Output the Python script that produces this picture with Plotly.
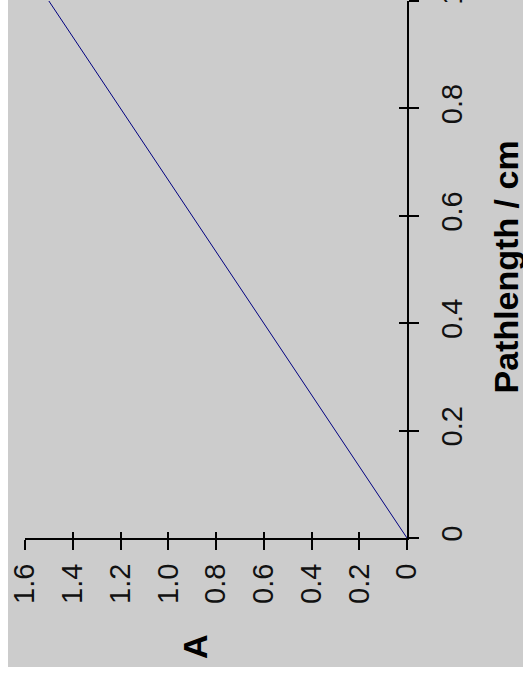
import plotly.graph_objects as go

# Data
pathlength = [0, 0.2, 0.4, 0.6, 0.8, 1.0]
absorbance = [0, 0.3, 0.6, 0.9, 1.2, 1.5]

a_ticks = [0, 0.2, 0.4, 0.6, 0.8, 1.0, 1.2, 1.4, 1.6]
a_ticktext = ["0", "0.2", "0.4", "0.6", "0.8", "1.0", "1.2", "1.4", "1.6"]
p_ticks = [0, 0.2, 0.4, 0.6, 0.8, 1.0]
p_ticktext = ["0", "0.2", "0.4", "0.6", "0.8", "1"]

GRAY = "#cccccc"
FONT = "Arial, Liberation Sans, sans-serif"

fig = go.Figure()
fig.add_trace(go.Scatter(x=absorbance, y=pathlength, mode="lines",
                         line=dict(color="#000080", width=1),
                         showlegend=False, hoverinfo="skip"))
# invisible trace on overlay axes so they render
fig.add_trace(go.Scatter(x=[0], y=[0], xaxis="x2", yaxis="y2", mode="markers",
                         marker=dict(opacity=0), showlegend=False, hoverinfo="skip"))

axis_common = dict(showgrid=False, zeroline=False, linecolor="black", linewidth=2,
                   tickcolor="black", tickwidth=2, automargin=False,
                   tickfont=dict(family=FONT, size=29, color="#111111"))

fig.update_layout(
    width=523, height=681,
    margin=dict(l=25, r=116, t=1, b=143, autoexpand=False),
    paper_bgcolor="white", plot_bgcolor=GRAY,
    xaxis=dict(range=[1.6, 0], tickmode="array", tickvals=a_ticks, ticktext=a_ticktext,
               ticks="outside", ticklen=10, tickangle=-90, showline=True,
               ticklabelstandoff=2, anchor="y", side="bottom", **axis_common),
    xaxis2=dict(range=[1.6, 0], tickmode="array", tickvals=a_ticks, ticks="inside",
                ticklen=6, showticklabels=False, showline=False, overlaying="x",
                anchor="y", side="bottom", **axis_common),
    yaxis=dict(range=[0, 1], tickmode="array", tickvals=p_ticks, ticktext=p_ticktext,
               ticks="outside", ticklen=10, tickangle=-90, showline=True, side="right",
               ticklabelstandoff=8, ticklabeloverflow="allow", anchor="x", **axis_common),
    yaxis2=dict(range=[0, 1], tickmode="array", tickvals=p_ticks, ticks="inside",
                ticklen=8, showticklabels=False, showline=False, overlaying="y",
                side="right", anchor="x", **axis_common),
    shapes=[dict(type="rect", xref="paper", yref="paper", layer="below",
                 x0=-17/382, x1=116/382 + 1, y0=-129/537, y1=1 + 1/537,
                 fillcolor=GRAY, line=dict(width=0))],
    annotations=[
        dict(text="<b>A</b>", xref="paper", yref="paper", x=(195 - 25) / 382, y=0,
             yshift=-109, xanchor="center", yanchor="middle", textangle=-90,
             showarrow=False, font=dict(family=FONT, size=34, color="black")),
        dict(text="<b>Pathlength / cm</b>", xref="paper", yref="paper", x=1, y=0.5,
             xshift=98, yshift=2, xanchor="center", yanchor="middle", textangle=-90,
             showarrow=False, font=dict(family=FONT, size=34, color="black")),
    ],
)

fig.write_html("out.html", config={"displayModeBar": False},
               post_script="document.body.style.margin='0';")
